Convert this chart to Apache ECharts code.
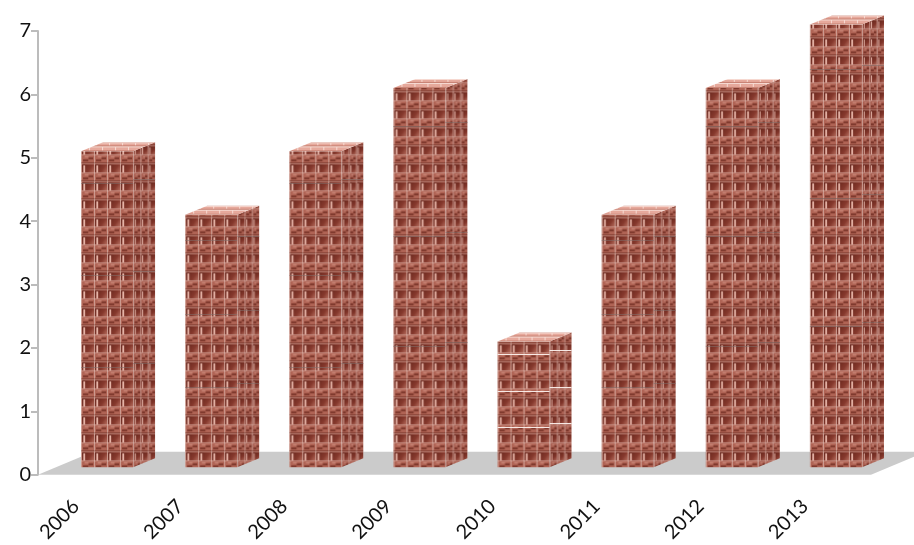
<!DOCTYPE html>
<html>
<head>
<meta charset="utf-8">
<style>html,body{margin:0;padding:0;background:#fff}#chart{width:914px;height:545px}</style>
<script src="https://cdn.jsdelivr.net/npm/echarts@6/dist/echarts.min.js"></script>
</head>
<body>
<div id="chart"></div>
<script>
// Yearly values for the brick columns
const years = ['2006', '2007', '2008', '2009', '2010', '2011', '2012', '2013'];
const values = [5, 4, 5, 6, 2, 4, 6, 7];
const valueTicks = { min: 0, max: 7, interval: 1 };

// Projection used for the pseudo-3D columns
const DEPTH_X = 22, DEPTH_Y = 9;
const BASE_LIFT = 7.5, TOP_LIFT = 6.5, COLUMN_SHIFT = 17;
const FLOOR_X = 55, FLOOR_Y = 23;

function tile(w, h, paint) {
  const c = document.createElement('canvas');
  c.width = w; c.height = h;
  paint(c.getContext('2d'), w, h);
  return c;
}

// One course of framed bricks and one course of mottled, darker stone
function paintCourses(ctx, w, h, cols) {
  const cw = w / cols;
  ctx.fillStyle = '#9c5043';
  ctx.fillRect(0, 0, w, h);
  for (let i = 0; i < cols; i++) {
    const x = i * cw;
    const g = ctx.createLinearGradient(x, 0, x + cw, 9);
    g.addColorStop(0, '#5f2219');
    g.addColorStop(0.65, '#86392d');
    g.addColorStop(1, '#b56d5e');
    ctx.fillStyle = g;
    ctx.fillRect(x + 1, 1, cw - 1, 8);
    ctx.fillStyle = '#e8b6a9';
    ctx.fillRect(x + 1 + cw * 0.1, 2, Math.max(1, cw * 0.14), 7);
    ctx.fillStyle = '#b06455';
    ctx.fillRect(x + 1, 10, cw - 1, 7);
    ctx.fillStyle = '#803a2e';
    ctx.fillRect(x + 1 + cw * 0.08, 14, cw * 0.4, 2);
    ctx.fillRect(x + 1 + cw * 0.5, 12, cw * 0.35, 2);
    ctx.fillStyle = 'rgba(214,150,136,0.8)';
    ctx.fillRect(x + 1 + cw * 0.2, 11, cw * 0.3, 1);
    ctx.fillStyle = 'rgba(240,210,202,0.6)';
    ctx.fillRect(x, 0, 1, h);
  }
  ctx.fillStyle = 'rgba(236,196,186,0.55)';
  ctx.fillRect(0, 9, w, 1);
  ctx.fillStyle = 'rgba(236,196,186,0.4)';
  ctx.fillRect(0, 0, w, 1);
  ctx.fillStyle = 'rgba(80,28,20,0.35)';
  ctx.fillRect(0, 17, w, 1);
}

const frontTile = tile(13, 18, (ctx, w, h) => paintCourses(ctx, w, h, 1));
const sideTile = tile(22, 18, (ctx, w, h) => {
  paintCourses(ctx, w, h, 3);
  ctx.fillStyle = 'rgba(70,20,12,0.06)';
  ctx.fillRect(0, 0, w, h);
});
const topTile = tile(13, 9, (ctx, w, h) => {
  ctx.fillStyle = '#e6a99c';
  ctx.fillRect(0, 0, w, h);
  ctx.fillStyle = '#f8dcd4';
  ctx.fillRect(0, 0, w, 1);
  ctx.fillRect(0, 4, w, 1);
  ctx.fillRect(2, 0, 1, 4);
  ctx.fillRect(8, 4, 1, 5);
  ctx.fillStyle = '#c67f70';
  ctx.fillRect(0, 3, w, 1);
  ctx.fillRect(0, 8, w, 1);
});

function pattern(image, x, y) {
  return { image: image, repeat: 'repeat', x: x, y: y };
}

// Seams repeat at a spacing proportional to the column's own height
function seams(x, width, bottom, height, color, lift) {
  const step = height * 0.29;
  const lines = [];
  for (let d = step * 1.1; d < height - 8; d += step) {
    const y = Math.round(bottom - d - lift) + 0.5;
    lines.push({
      type: 'line',
      shape: { x1: x, y1: y, x2: x + width, y2: y },
      style: { stroke: color, lineWidth: 1 },
      silent: true
    });
  }
  return lines;
}

function renderColumn(params, api) {
  const idx = api.value(0);
  const v = api.value(1);
  const width = api.size([1, 0])[0] * 0.5;
  const x = api.coord([idx, 0])[0] + COLUMN_SHIFT - width / 2;
  const bottom = api.coord([idx, 0])[1] - BASE_LIFT;
  const top = api.coord([idx, v])[1] - TOP_LIFT;
  const right = x + width;
  const height = bottom - top;
  const seamColor = height < 150 ? 'rgba(252,240,236,0.95)' : 'rgba(130,112,108,0.55)';
  const children = [
    {
      type: 'rect',
      shape: { x: x, y: top, width: width, height: height },
      style: { fill: pattern(frontTile, x, bottom + 2) }
    },
    {
      type: 'polygon',
      shape: { points: [[right, top], [right + DEPTH_X, top - DEPTH_Y], [right + DEPTH_X, bottom - DEPTH_Y], [right, bottom]] },
      style: { fill: pattern(sideTile, right, bottom + 2) }
    },
    {
      type: 'polygon',
      shape: { points: [[x, top], [x + DEPTH_X, top - DEPTH_Y], [right + DEPTH_X, top - DEPTH_Y], [right, top]] },
      style: { fill: pattern(topTile, x, top) }
    }
  ];
  return {
    type: 'group',
    children: children
      .concat(seams(x, width, bottom, height, seamColor, 0))
      .concat(seams(right, DEPTH_X, bottom, height, seamColor, 4))
  };
}

function renderFloor(params, api) {
  const start = api.coord([0, 0]);
  const band = api.size([1, 0])[0];
  const x0 = start[0] - band / 2;
  const x1 = x0 + band * years.length;
  const y = start[1];
  return {
    type: 'polygon',
    shape: { points: [[x0, y], [x0 + FLOOR_X, y - FLOOR_Y], [x1 + FLOOR_X, y - FLOOR_Y], [x1, y]] },
    style: { fill: '#cbcbcb' },
    silent: true
  };
}

const chart = echarts.init(document.getElementById('chart'), null, { renderer: 'canvas' });
chart.setOption({
  animation: false,
  backgroundColor: '#ffffff',
  grid: { left: 38, right: 43, top: 31, bottom: 64.5 },
  xAxis: {
    type: 'category',
    data: years,
    axisLine: { show: false },
    axisTick: { show: false },
    axisLabel: {
      rotate: 45,
      interval: 0,
      margin: 14,
      padding: [0, 20, 0, 0],
      color: '#111111',
      fontFamily: 'Lato',
      fontSize: 20
    }
  },
  yAxis: {
    type: 'value',
    min: valueTicks.min,
    max: valueTicks.max,
    interval: valueTicks.interval,
    splitLine: { show: false },
    axisLine: { show: true, lineStyle: { color: '#bcbcbc', width: 2 } },
    axisTick: { show: true, length: 7, lineStyle: { color: '#bcbcbc', width: 2 } },
    axisLabel: {
      margin: 7,
      color: '#111111',
      fontFamily: 'Lato',
      fontSize: 20
    }
  },
  series: [
    {
      type: 'custom',
      name: 'floor',
      clip: false,
      z: 1,
      renderItem: renderFloor,
      data: [[0, 0]],
      encode: { x: 0, y: 1 }
    },
    {
      type: 'custom',
      name: 'columns',
      clip: false,
      z: 2,
      renderItem: renderColumn,
      data: values.map((v, i) => [i, v]),
      encode: { x: 0, y: 1 }
    }
  ]
});
</script>
</body>
</html>
